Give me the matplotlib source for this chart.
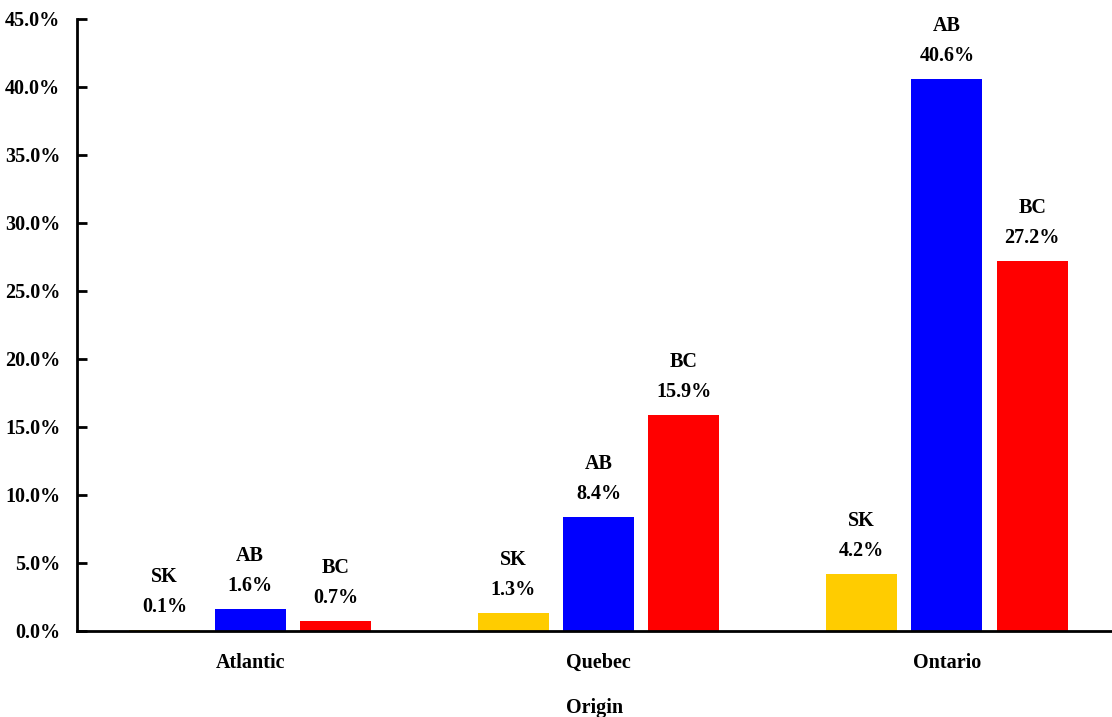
import matplotlib
matplotlib.use("Agg")
import matplotlib.pyplot as plt
import numpy as np

origins = ["Atlantic", "Quebec", "Ontario"]
series_names = ["SK", "AB", "BC"]
sk_values = [0.1, 1.3, 4.2]
ab_values = [1.6, 8.4, 40.6]
bc_values = [0.7, 15.9, 27.2]
series_colors = ["#FFCC00", "#0000FF", "#FF0000"]
y_ticks = [0, 5, 10, 15, 20, 25, 30, 35, 40, 45]

plt.rcParams['font.family'] = ['Liberation Serif', 'DejaVu Serif']
plt.rcParams['font.weight'] = 'bold'
FS = 14.5

fig = plt.figure(figsize=(11.12, 7.17), dpi=100)
ax = fig.add_axes([77/1112, 1 - 631/717, 1 - 77/1112, (631 - 19)/717])

x = np.arange(len(origins))
width = 0.204
step = 0.245
all_values = [sk_values, ab_values, bc_values]
for i, (name, vals, col) in enumerate(zip(series_names, all_values, series_colors)):
    pos = x + (i - 1) * step
    bars = ax.bar(pos, vals, width=width, color=col)
    for b, v in zip(bars, vals):
        cx = b.get_x() + b.get_width() / 2
        ax.annotate(f"{v:.1f}%", (cx, v), xytext=(0, 23), textcoords="offset pixels",
                    ha="center", va="center", fontsize=FS, fontweight="bold")
        ax.annotate(name, (cx, v), xytext=(0, 53), textcoords="offset pixels",
                    ha="center", va="center", fontsize=FS, fontweight="bold")

ax.set_xlim(-0.497, 2.474)
ax.set_ylim(0, 45)
ax.set_yticks(y_ticks)
ax.set_yticklabels([f"{t:.1f}%" for t in y_ticks], fontsize=FS, fontweight="bold")
ax.set_xticks(x)
ax.set_xticklabels(origins, fontsize=FS, fontweight="bold")
ax.tick_params(axis="x", length=0, pad=16)
ax.tick_params(axis="y", direction="in", length=7, width=2, pad=12)
ax.set_xlabel("Origin", fontsize=FS, fontweight="bold", labelpad=18)

for s in ["top", "right"]:
    ax.spines[s].set_visible(False)
for s in ["left", "bottom"]:
    ax.spines[s].set_linewidth(2)

fig.savefig("out.png", dpi=100)
